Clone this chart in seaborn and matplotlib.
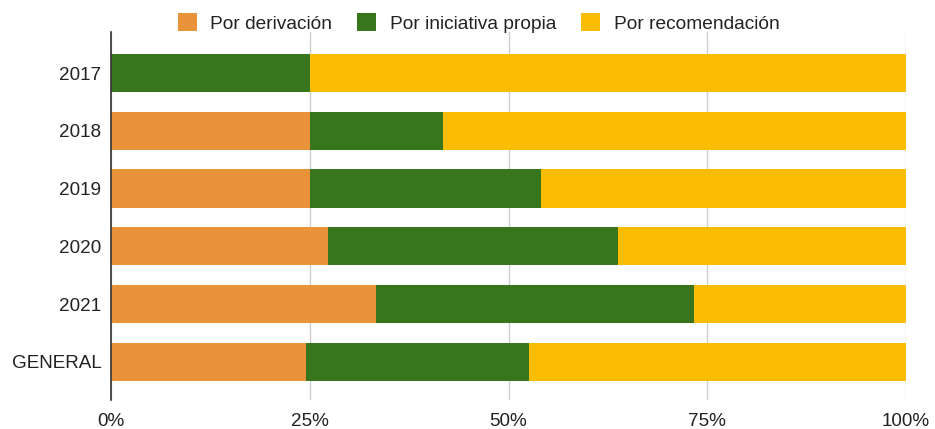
import numpy as np
import pandas as pd
import matplotlib
matplotlib.use("Agg")
import matplotlib.pyplot as plt
import seaborn as sns
from matplotlib.patches import Patch
from matplotlib.ticker import FuncFormatter

# Data (percent of each year's total)
years = ['2017', '2018', '2019', '2020', '2021', 'GENERAL']
derivacion = [0.0, 25.0, 25.0, 27.3, 33.3, 24.5]
iniciativa = [25.0, 16.7, 29.1, 36.5, 40.0, 28.1]
recomendacion = [75.0, 58.3, 45.9, 36.2, 26.7, 47.4]

series_names = ['Por derivación', 'Por iniciativa propia', 'Por recomendación']
colors = ['#E8923A', '#38761D', '#FBBC04']

sns.set_theme(style="white")
plt.rcParams['font.family'] = ['Liberation Sans', 'DejaVu Sans']

df = pd.DataFrame({
    'year': years,
    'der': derivacion,
    'ini': iniciativa,
    'rec': recomendacion,
})
df['c1'] = df['der']
df['c2'] = df['der'] + df['ini']
df['c3'] = df['der'] + df['ini'] + df['rec']

fig = plt.figure(figsize=(9.35, 4.29), dpi=100)
ax = fig.add_axes([111 / 935, 29 / 429, 795 / 935, 368 / 429])

# stacked bars: draw cumulative totals from the widest down
for col, color in zip(['c3', 'c2', 'c1'], colors[::-1]):
    sns.barplot(data=df, x=col, y='year', color=color, orient='h',
                width=0.66, saturation=1, ax=ax, zorder=3, linewidth=0)

ax.set_xlim(0, 100)
ax.set_ylim(5.66, -0.71)
ax.set_xticks([0, 25, 50, 75, 100])
ax.xaxis.set_major_formatter(FuncFormatter(lambda v, p: f'{int(v)}%'))
ax.grid(axis='x', color='#cccccc', linewidth=1, zorder=0)
ax.set_xlabel('')
ax.set_ylabel('')
for s in ['top', 'right', 'bottom']:
    ax.spines[s].set_visible(False)
ax.spines['left'].set_color('#333333')
ax.spines['left'].set_linewidth(1.2)
ax.spines['left'].set_zorder(4)
ax.tick_params(axis='both', length=0, labelsize=13.6, colors='#222222')
ax.tick_params(axis='x', pad=9)
ax.tick_params(axis='y', pad=7)

handles = [Patch(facecolor=c, edgecolor='none') for c in colors]
fig.legend(handles, series_names, loc='center', bbox_to_anchor=(478.5 / 935, 1 - 23 / 429),
           ncol=3, frameon=False, fontsize=13.8, handlelength=1.0, handleheight=1.0,
           handletextpad=0.7, columnspacing=1.3, labelcolor='#222222')

fig.savefig('out.png', dpi=100)
